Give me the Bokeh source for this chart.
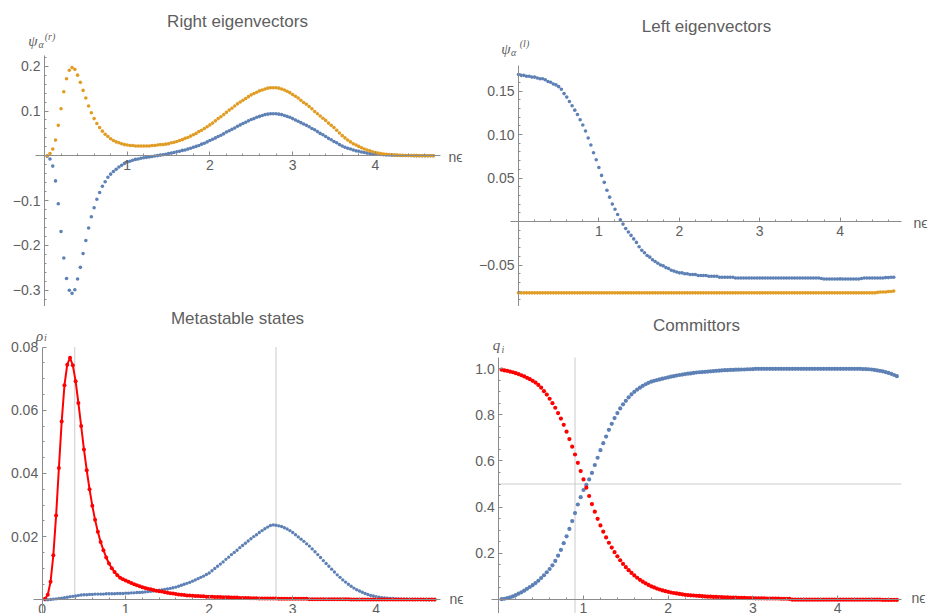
from bokeh.plotting import figure
from bokeh.layouts import column, row
from bokeh.models import FixedTicker, CustomJSTickFormatter, Label
from bokeh.embed import file_html
from bokeh.resources import INLINE
import numpy as np

# ---------------- data ----------------
# x grid (n*epsilon), step 1/30
ne = [round(i / 30, 5) for i in range(1, 142)]      # 0.033 .. 4.7
ne0 = [round(i / 30, 5) for i in range(0, 141)]     # 0 .. 4.667 (left eigenvectors)

right_blue = [
    -0.001, -0.007, -0.023, -0.056, -0.107, -0.169, -0.228, -0.274, -0.300, -0.307,
    -0.299, -0.275, -0.249, -0.218, -0.189, -0.161, -0.136, -0.116, -0.097, -0.082,
    -0.068, -0.058, -0.048, -0.041, -0.035, -0.030, -0.025, -0.021, -0.017, -0.014,
    -0.012, -0.010, -0.008, -0.007, -0.0055, -0.0045, -0.0035, -0.0025, -0.0015, -0.0005,
    0.0005, 0.0015, 0.0025, 0.0035, 0.005, 0.006, 0.0075, 0.009, 0.010, 0.012,
    0.013, 0.015, 0.017, 0.019, 0.021, 0.023, 0.026, 0.028, 0.031, 0.034,
    0.037, 0.040, 0.043, 0.046, 0.049, 0.053, 0.056, 0.059, 0.062, 0.066,
    0.069, 0.072, 0.075, 0.078, 0.081, 0.083, 0.086, 0.088, 0.090, 0.092,
    0.093, 0.094, 0.094, 0.094, 0.093, 0.092, 0.090, 0.088, 0.086, 0.083,
    0.080, 0.077, 0.074, 0.071, 0.068, 0.065, 0.061, 0.058, 0.054, 0.050,
    0.047, 0.043, 0.039, 0.036, 0.032, 0.029, 0.025, 0.022, 0.019, 0.017,
    0.015, 0.013, 0.011, 0.010, 0.0085, 0.0072, 0.006, 0.005, 0.0045, 0.004,
    0.0035, 0.003, 0.0025, 0.002, 0.0018, 0.0015, 0.0012, 0.001, 0.0008, 0.0007,
    0.0006, 0.0005, 0.0004, 0.0003, 0.0003, 0.0002, 0.0002, 0.0001, 0.0001, 0.0001,
    0.0]

right_orange = [
    0.000, 0.005, 0.015, 0.035, 0.068, 0.105, 0.143, 0.172, 0.191, 0.197,
    0.193, 0.180, 0.164, 0.146, 0.129, 0.111, 0.096, 0.083, 0.072, 0.063,
    0.055, 0.048, 0.043, 0.038, 0.034, 0.031, 0.029, 0.027, 0.025, 0.024,
    0.023, 0.023, 0.022, 0.022, 0.022, 0.022, 0.022, 0.022, 0.023, 0.023,
    0.024, 0.025, 0.025, 0.026, 0.027, 0.029, 0.030, 0.032, 0.034, 0.036,
    0.039, 0.041, 0.044, 0.047, 0.050, 0.054, 0.057, 0.061, 0.065, 0.069,
    0.073, 0.078, 0.083, 0.087, 0.092, 0.097, 0.102, 0.106, 0.111, 0.116,
    0.120, 0.124, 0.128, 0.132, 0.136, 0.139, 0.142, 0.145, 0.147, 0.149,
    0.151, 0.152, 0.152, 0.152, 0.151, 0.149, 0.147, 0.144, 0.141, 0.137,
    0.133, 0.129, 0.124, 0.119, 0.115, 0.110, 0.105, 0.099, 0.094, 0.089,
    0.084, 0.079, 0.073, 0.068, 0.063, 0.057, 0.051, 0.045, 0.040, 0.035,
    0.031, 0.027, 0.024, 0.021, 0.018, 0.015, 0.013, 0.011, 0.009, 0.0075,
    0.006, 0.005, 0.004, 0.0035, 0.003, 0.0025, 0.002, 0.0015, 0.0012, 0.001,
    0.0008, 0.0006, 0.0005, 0.0004, 0.0003, 0.0002, 0.0002, 0.0001, 0.0001, 0.0001,
    0.0]

left_blue = [
    0.169, 0.168, 0.168, 0.167, 0.167, 0.166, 0.166, 0.165, 0.164, 0.164,
    0.163, 0.161, 0.160, 0.158, 0.157, 0.155, 0.152, 0.147, 0.143, 0.138,
    0.133, 0.128, 0.123, 0.117, 0.111, 0.104, 0.096, 0.088, 0.079, 0.071,
    0.062, 0.053, 0.045, 0.036, 0.028, 0.020, 0.014, 0.008, 0.002, -0.003,
    -0.008, -0.012, -0.016, -0.020, -0.024, -0.029, -0.033, -0.036, -0.039, -0.041,
    -0.044, -0.046, -0.048, -0.050, -0.051, -0.053, -0.054, -0.056, -0.057, -0.058,
    -0.059, -0.059, -0.060, -0.060, -0.061, -0.061, -0.061, -0.062, -0.062, -0.062,
    -0.062, -0.063, -0.063, -0.063, -0.063, -0.064, -0.064, -0.064, -0.064, -0.064,
    -0.064, -0.065, -0.065, -0.065, -0.065, -0.065, -0.065, -0.065, -0.065, -0.065,
    -0.065, -0.065, -0.065, -0.065, -0.065, -0.065, -0.065, -0.065, -0.065, -0.065,
    -0.065, -0.065, -0.065, -0.065, -0.065, -0.065, -0.065, -0.065, -0.065, -0.065,
    -0.065, -0.065, -0.065, -0.0655, -0.066, -0.066, -0.066, -0.066, -0.066, -0.066,
    -0.066, -0.066, -0.066, -0.066, -0.066, -0.066, -0.066, -0.066, -0.0655, -0.065,
    -0.065, -0.065, -0.065, -0.065, -0.065, -0.065, -0.065, -0.0645, -0.0645, -0.064,
    -0.064]

left_orange = [
    -0.082, -0.082, -0.082, -0.082, -0.082, -0.082, -0.082, -0.082, -0.082, -0.082,
    -0.082, -0.082, -0.082, -0.082, -0.082, -0.082, -0.082, -0.082, -0.082, -0.082,
    -0.082, -0.082, -0.082, -0.082, -0.082, -0.082, -0.082, -0.082, -0.082, -0.082,
    -0.082, -0.082, -0.082, -0.082, -0.082, -0.082, -0.082, -0.082, -0.082, -0.082,
    -0.082, -0.082, -0.082, -0.082, -0.082, -0.082, -0.082, -0.082, -0.082, -0.082,
    -0.082, -0.082, -0.082, -0.082, -0.082, -0.082, -0.082, -0.082, -0.082, -0.082,
    -0.082, -0.082, -0.082, -0.082, -0.082, -0.082, -0.082, -0.082, -0.082, -0.082,
    -0.082, -0.082, -0.082, -0.082, -0.082, -0.082, -0.082, -0.082, -0.082, -0.082,
    -0.082, -0.082, -0.082, -0.082, -0.082, -0.082, -0.082, -0.082, -0.082, -0.082,
    -0.082, -0.082, -0.082, -0.082, -0.082, -0.082, -0.082, -0.082, -0.082, -0.082,
    -0.082, -0.082, -0.082, -0.082, -0.082, -0.082, -0.082, -0.082, -0.082, -0.082,
    -0.082, -0.082, -0.082, -0.082, -0.082, -0.082, -0.082, -0.082, -0.082, -0.082,
    -0.082, -0.082, -0.082, -0.082, -0.082, -0.082, -0.082, -0.082, -0.082, -0.082,
    -0.082, -0.082, -0.082, -0.082, -0.0815, -0.081, -0.081, -0.081, -0.0805, -0.0805,
    -0.080]

meta_red = [
    0.0003, 0.0016, 0.0057, 0.0141, 0.0267, 0.0417, 0.0564, 0.0679, 0.0744, 0.0766,
    0.0742, 0.0692, 0.0623, 0.0550, 0.0476, 0.0410, 0.0350, 0.0298, 0.0253, 0.0215,
    0.0183, 0.0157, 0.0134, 0.0115, 0.0100, 0.0088, 0.0078, 0.0070, 0.0065, 0.0061,
    0.0057, 0.0053, 0.0049, 0.0046, 0.0043, 0.0040, 0.0037, 0.0035, 0.0033, 0.0031,
    0.0029, 0.0027, 0.0026, 0.0024, 0.0022, 0.0021, 0.0020, 0.0018, 0.0017, 0.0016,
    0.0015, 0.0014, 0.0014, 0.0013, 0.0012, 0.0012, 0.0011, 0.0011, 0.0010, 0.0010,
    0.0010, 0.0009, 0.0009, 0.0009, 0.0008, 0.0008, 0.0008, 0.0007, 0.0007, 0.0007,
    0.0006, 0.0006, 0.0006, 0.0006, 0.0005, 0.0005, 0.0005, 0.0004, 0.0004, 0.0004,
    0.0004, 0.0004, 0.0004, 0.0004, 0.0003, 0.0003, 0.0003, 0.0003, 0.0003, 0.0003,
    0.0003, 0.0003, 0.0003, 0.0003, 0.0003, 0.0002, 0.0002, 0.0002, 0.0002, 0.0002,
    0.0002, 0.0002, 0.0002, 0.0002, 0.0002, 0.0002, 0.0002, 0.0002, 0.0002, 0.0002,
    0.0001, 0.0001, 0.0001, 0.0001, 0.0001, 0.0001, 0.0001, 0.0001, 0.0001, 0.0001,
    0.0001, 0.0001, 0.0001, 0.0001, 0.0001, 0.0001, 0.0001, 0.0001, 0.0001, 0.0001,
    0.0001, 0.0001, 0.0001, 0.0001, 0.0001, 0.0001, 0.0001, 0.0001, 0.0001, 0.0001,
    0.0001]

meta_blue = [
    0.0000, 0.0000, 0.0001, 0.0002, 0.0003, 0.0004, 0.0005, 0.0007, 0.0008, 0.0010,
    0.0011, 0.0012, 0.0014, 0.0015, 0.0016, 0.0016, 0.0017, 0.0017, 0.0018, 0.0018,
    0.0018, 0.0018, 0.0019, 0.0019, 0.0019, 0.0019, 0.0020, 0.0020, 0.0020, 0.0021,
    0.0021, 0.0022, 0.0022, 0.0023, 0.0023, 0.0024, 0.0025, 0.0026, 0.0027, 0.0028,
    0.0029, 0.0030, 0.0031, 0.0033, 0.0034, 0.0036, 0.0038, 0.0040, 0.0043, 0.0046,
    0.0049, 0.0052, 0.0055, 0.0059, 0.0063, 0.0067, 0.0071, 0.0075, 0.0080, 0.0085,
    0.0092, 0.0099, 0.0106, 0.0113, 0.0120, 0.0128, 0.0135, 0.0143, 0.0150, 0.0157,
    0.0165, 0.0172, 0.0179, 0.0186, 0.0193, 0.0200, 0.0206, 0.0213, 0.0219, 0.0225,
    0.0230, 0.0235, 0.0237, 0.0236, 0.0234, 0.0232, 0.0228, 0.0224, 0.0219, 0.0213,
    0.0206, 0.0199, 0.0192, 0.0185, 0.0177, 0.0170, 0.0161, 0.0152, 0.0143, 0.0134,
    0.0124, 0.0115, 0.0106, 0.0097, 0.0088, 0.0079, 0.0071, 0.0063, 0.0056, 0.0049,
    0.0043, 0.0037, 0.0032, 0.0028, 0.0024, 0.0020, 0.0017, 0.0014, 0.0012, 0.0010,
    0.0008, 0.0007, 0.0006, 0.0005, 0.0004, 0.0004, 0.0003, 0.0003, 0.0002, 0.0002,
    0.0002, 0.0001, 0.0001, 0.0001, 0.0001, 0.0001, 0.0001, 0.0000, 0.0000, 0.0000,
    0.0000]

comm_red = [
    0.996, 0.993, 0.991, 0.988, 0.985, 0.981, 0.977, 0.972, 0.967, 0.961,
    0.955, 0.948, 0.940, 0.930, 0.918, 0.903, 0.888, 0.870, 0.851, 0.831,
    0.808, 0.784, 0.757, 0.727, 0.695, 0.662, 0.628, 0.592, 0.556, 0.520,
    0.484, 0.448, 0.413, 0.380, 0.349, 0.320, 0.293, 0.268, 0.245, 0.224,
    0.204, 0.186, 0.169, 0.153, 0.139, 0.126, 0.114, 0.103, 0.093, 0.084,
    0.076, 0.069, 0.062, 0.056, 0.051, 0.046, 0.042, 0.038, 0.035, 0.032,
    0.029, 0.027, 0.025, 0.023, 0.021, 0.019, 0.018, 0.017, 0.016, 0.015,
    0.014, 0.013, 0.012, 0.011, 0.011, 0.010, 0.010, 0.009, 0.009, 0.008,
    0.008, 0.007, 0.007, 0.007, 0.006, 0.006, 0.006, 0.005, 0.005, 0.005,
    0.004, 0.004, 0.004, 0.004, 0.003, 0.003, 0.003, 0.003, 0.003, 0.002,
    0.002, 0.002, 0.001, -0.002, -0.002, -0.002, -0.002, -0.002, -0.002, -0.002,
    -0.002, -0.002, -0.002, -0.002, -0.002, -0.002, -0.002, -0.002, -0.002, -0.002,
    -0.002, -0.002, -0.002, -0.002, -0.002, -0.002, -0.002, -0.002, -0.002, -0.002,
    -0.002, -0.002, -0.002, -0.002, -0.002, -0.003, -0.003, -0.003, -0.003, -0.003,
    -0.003]

comm_blue = [
    0.000, 0.002, 0.005, 0.008, 0.012, 0.018, 0.024, 0.030, 0.037, 0.045,
    0.053, 0.061, 0.070, 0.080, 0.092, 0.104, 0.117, 0.131, 0.147, 0.166,
    0.189, 0.214, 0.243, 0.273, 0.305, 0.339, 0.374, 0.411, 0.443, 0.474,
    0.496, 0.520, 0.548, 0.582, 0.614, 0.647, 0.677, 0.706, 0.735, 0.761,
    0.786, 0.808, 0.828, 0.846, 0.861, 0.876, 0.889, 0.900, 0.910, 0.918,
    0.926, 0.933, 0.939, 0.944, 0.948, 0.951, 0.954, 0.957, 0.960, 0.963,
    0.966, 0.968, 0.971, 0.973, 0.975, 0.977, 0.979, 0.980, 0.982, 0.984,
    0.985, 0.986, 0.987, 0.988, 0.989, 0.990, 0.991, 0.992, 0.993, 0.994,
    0.994, 0.995, 0.995, 0.996, 0.996, 0.997, 0.997, 0.998, 0.998, 0.999,
    1.000, 1.000, 1.000, 1.000, 1.000, 1.000, 1.000, 1.000, 1.000, 1.000,
    1.000, 1.000, 1.000, 1.000, 1.000, 1.000, 1.000, 1.000, 1.000, 1.000,
    1.000, 1.000, 1.000, 1.000, 1.000, 1.000, 1.000, 1.000, 1.000, 1.000,
    1.000, 1.000, 1.000, 1.000, 1.000, 1.000, 1.000, 1.000, 0.999, 0.999,
    0.998, 0.997, 0.995, 0.993, 0.991, 0.989, 0.986, 0.982, 0.978, 0.973,
    0.968]

# tick values
right_yticks = [-0.3, -0.2, -0.1, 0.1, 0.2]
left_yticks = [-0.05, 0.05, 0.10, 0.15]
meta_yticks = [0.02, 0.04, 0.06, 0.08]
comm_yticks = [0.2, 0.4, 0.6, 0.8, 1.0]
x_ticks = [1, 2, 3, 4]
meta_xticks = [0, 1, 2, 3, 4]

# guide line positions
meta_guides = [0.39, 2.80]
comm_vguide = 0.90
comm_hguide = 0.50

# ---------------- style ----------------
BLUE = "#5E81B5"
ORANGE = "#E19C24"
RED = "#FF0000"
AXIS = "#8c8c8c"
TXT = "#5e5e5e"
GRID = "#cccccc"
FONT = "Liberation Sans"
SERIF = "Liberation Serif"
TICK_SIZE = "14px"
TITLE_SIZE = "17px"


def fmt(dec):
    return CustomJSTickFormatter(
        code="const s = Math.abs(tick).toFixed(%d); return tick < 0 ? '\\u2212' + s : s;" % dec)


def minors(lo, hi, step, majors):
    vals = np.round(np.arange(lo, hi + step / 2, step), 5)
    return [float(v) for v in vals if all(abs(v - m) > 1e-6 for m in majors) and abs(v) > 1e-9]


def X(P, px):
    return (px - P["x0"]) / P["xs"]


def Y(P, py):
    return (P["y0"] - py) / P["ys"]


def panel(P):
    # the frame covers the whole figure; P holds pixel geometry on the page
    xr = (X(P, P["left"]), X(P, P["left"] + P["w"]))
    yr = (Y(P, P["top"] + P["h"]), Y(P, P["top"]))
    p = figure(width=P["w"], height=P["h"], x_range=xr, y_range=yr,
               output_backend="svg", toolbar_location=None, title=None,
               min_border=0, min_border_left=0, min_border_right=0,
               min_border_top=0, min_border_bottom=0)
    p.grid.visible = False
    p.outline_line_color = None
    p.background_fill_color = "white"
    p.border_fill_color = "white"
    xa, ya = p.xaxis[0], p.yaxis[0]
    xa.bounds = (X(P, P["xb"][0]), X(P, P["xb"][1]))
    ya.bounds = (Y(P, P["yb"][1]), Y(P, P["yb"][0]))
    for ax in (xa, ya):
        ax.fixed_location = 0
        ax.axis_line_color = AXIS
        ax.axis_line_width = 1
        ax.major_tick_line_color = AXIS
        ax.minor_tick_line_color = AXIS
        ax.major_tick_in = 4
        ax.major_tick_out = 0
        ax.minor_tick_in = 2
        ax.minor_tick_out = 0
        ax.major_label_text_font = FONT
        ax.major_label_text_font_size = TICK_SIZE
        ax.major_label_text_color = TXT
        ax.major_label_standoff = 4
    return p


def lab(p, P, px, py, text, size, font=FONT, style="normal", align="center", baseline="middle", color=TXT):
    p.add_layout(Label(x=X(P, px), y=Y(P, py), text=text, text_font=font, text_font_size=size,
                       text_font_style=style, text_align=align, text_baseline=baseline,
                       text_color=color))


# ---------- panel 1: right eigenvectors ----------
P1 = dict(left=0, top=0, w=464, h=306, x0=44, xs=82.7, y0=155.3, ys=448, xb=(35, 440), yb=(55, 306))
p1 = panel(P1)
p1.xaxis[0].ticker = FixedTicker(ticks=x_ticks, minor_ticks=minors(0, 4.6, 0.2, x_ticks))
p1.xaxis[0].formatter = fmt(0)
p1.yaxis[0].ticker = FixedTicker(ticks=right_yticks, minor_ticks=minors(-0.32, 0.22, 0.02, right_yticks))
p1.yaxis[0].formatter = fmt(1)
p1.scatter(ne, right_blue, size=3.6, fill_color=BLUE, line_color=None)
p1.scatter(ne, right_orange, size=3.6, fill_color=ORANGE, line_color=None)
lab(p1, P1, 237, 21, "Right eigenvectors", TITLE_SIZE)
lab(p1, P1, 32.5, 40, "ψ", "15px", font=SERIF, style="italic")
lab(p1, P1, 40.5, 44, "α", "10px", font=SERIF, style="italic")
lab(p1, P1, 49.5, 36, "(r)", "10px", font=SERIF, style="italic")
lab(p1, P1, 448, 156, "nϵ", "14px", align="left")

# ---------- panel 2: left eigenvectors ----------
P2 = dict(left=464, top=0, w=464, h=306, x0=518, xs=80.4, y0=221, ys=870, xb=(510, 901), yb=(65, 306))
p2 = panel(P2)
p2.xaxis[0].ticker = FixedTicker(ticks=x_ticks, minor_ticks=minors(0, 4.6, 0.2, x_ticks))
p2.xaxis[0].formatter = fmt(0)
p2.yaxis[0].ticker = FixedTicker(ticks=left_yticks, minor_ticks=minors(-0.09, 0.17, 0.01, left_yticks))
p2.yaxis[0].formatter = fmt(2)
p2.scatter(ne0, left_blue, size=3.6, fill_color=BLUE, line_color=None)
p2.scatter(ne0, left_orange, size=3.6, fill_color=ORANGE, line_color=None)
lab(p2, P2, 706, 26, "Left eigenvectors", TITLE_SIZE)
lab(p2, P2, 505.5, 48, "ψ", "15px", font=SERIF, style="italic")
lab(p2, P2, 513, 51.5, "α", "10px", font=SERIF, style="italic")
lab(p2, P2, 524, 43, "(l)", "10px", font=SERIF, style="italic")
lab(p2, P2, 913, 222, "nϵ", "14px", align="left")

# ---------- panel 3: metastable states ----------
P3 = dict(left=0, top=306, w=464, h=307, x0=41.7, xs=83.5, y0=599.3, ys=3160, xb=(33, 440), yb=(346.7, 613))
p3 = panel(P3)
p3.xaxis[0].ticker = FixedTicker(ticks=meta_xticks, minor_ticks=minors(0, 4.6, 0.2, meta_xticks))
p3.xaxis[0].formatter = fmt(0)
p3.yaxis[0].ticker = FixedTicker(ticks=meta_yticks, minor_ticks=minors(0.005, 0.075, 0.005, meta_yticks))
p3.yaxis[0].formatter = fmt(2)
p3.segment(x0=meta_guides, y0=[0, 0], x1=meta_guides, y1=[0.08, 0.08],
           line_color=GRID, line_width=1, level="underlay")
p3.scatter(ne, meta_blue, size=3.4, fill_color=BLUE, line_color=None)
p3.line(ne, meta_red, line_color=RED, line_width=2)
p3.scatter(ne, meta_red, size=4, fill_color=RED, line_color=None)
lab(p3, P3, 237, 318, "Metastable states", TITLE_SIZE)
lab(p3, P3, 39, 335, "ρ", "15px", font=SERIF, style="italic")
lab(p3, P3, 45, 337, "i", "10px", font=SERIF, style="italic")
lab(p3, P3, 449, 598.5, "nϵ", "14px", align="left")

# ---------- panel 4: committors ----------
P4 = dict(left=464, top=306, w=464, h=307, x0=498.3, xs=84.7, y0=598.7, ys=230.4, xb=(490.7, 900.7), yb=(357, 613))
p4 = panel(P4)
p4.xaxis[0].ticker = FixedTicker(ticks=x_ticks, minor_ticks=minors(0, 4.6, 0.2, x_ticks))
p4.xaxis[0].formatter = fmt(0)
p4.yaxis[0].ticker = FixedTicker(ticks=comm_yticks, minor_ticks=minors(0.05, 1.0, 0.05, comm_yticks))
p4.yaxis[0].formatter = fmt(1)
p4.segment(x0=[comm_vguide], y0=[Y(P4, 613)], x1=[comm_vguide], y1=[Y(P4, 357)],
           line_color=GRID, line_width=1, level="underlay")
p4.segment(x0=[0], y0=[comm_hguide], x1=[X(P4, 900.7)], y1=[comm_hguide],
           line_color=GRID, line_width=1, level="underlay")
p4.scatter(ne, comm_blue, size=4.2, fill_color=BLUE, line_color=None)
p4.scatter(ne, comm_red, size=4.2, fill_color=RED, line_color=None)
lab(p4, P4, 696, 325, "Committors", TITLE_SIZE)
lab(p4, P4, 496, 344.5, "q", "15px", font=SERIF, style="italic")
lab(p4, P4, 502.5, 349, "i", "10px", font=SERIF, style="italic")
lab(p4, P4, 911, 597.7, "nϵ", "14px", align="left")

layout = column(row(p1, p2), row(p3, p4))
open("out.html", "w").write(file_html(layout, INLINE))
